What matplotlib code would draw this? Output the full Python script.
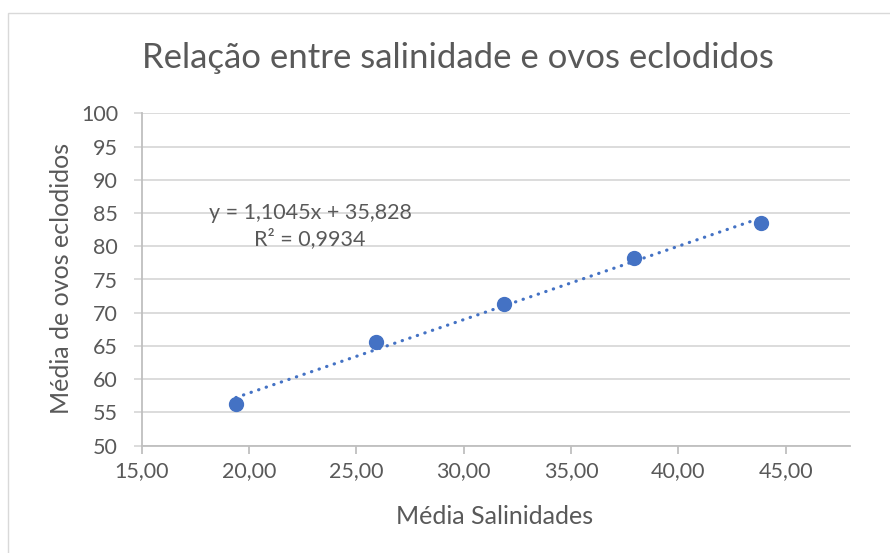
import numpy as np
import matplotlib
matplotlib.use("Agg")
import matplotlib.pyplot as plt
from matplotlib.patches import Rectangle

# data
salinidade = [19.39, 25.90, 31.87, 37.94, 43.85]
ovos = [56.3, 65.55, 71.25, 78.2, 83.5]
# trendline coefficients as printed on the chart
slope = 1.1045
intercept = 35.828
r2 = 0.9934

x_ticks = [15, 20, 25, 30, 35, 40, 45]
y_ticks = [50, 55, 60, 65, 70, 75, 80, 85, 90, 95, 100]

blue = '#4472C4'
text_gray = '#595959'
grid_gray = '#D9D9D9'
axis_gray = '#BFBFBF'

plt.rcParams['font.family'] = ['Lato', 'DejaVu Sans']

fig = plt.figure(figsize=(8.9, 5.53), dpi=100)
ax = fig.add_axes([141.7 / 890, (553 - 445.7) / 553, 708.3 / 890, 332.4 / 553])

# chart area border (only left/top visible in the crop)
fig.add_artist(Rectangle((8 / 890, -0.1), 1.2, (553 - 13) / 553 + 0.1,
                         transform=fig.transFigure, fill=False,
                         edgecolor=grid_gray, linewidth=1.0))

xs = np.array([min(salinidade), max(salinidade)])
ax.plot(xs, slope * xs + intercept, color=blue, linewidth=2.3,
        dashes=(0.1, 2.4), dash_capstyle='round', zorder=3)
ax.plot(salinidade, ovos, 'o', color=blue, markersize=10, zorder=4)

ax.set_xlim(15, 48)
ax.set_ylim(50, 100)
ax.set_xticks(x_ticks)
ax.set_xticklabels([('%.2f' % v).replace('.', ',') for v in x_ticks])
ax.set_yticks(y_ticks)

ax.grid(axis='y', color=grid_gray, linewidth=1.3)
ax.set_axisbelow(True)
for side in ['top', 'right']:
    ax.spines[side].set_visible(False)
ax.spines['left'].set_color(axis_gray)
ax.spines['bottom'].set_color(axis_gray)
ax.spines['left'].set_linewidth(1.3)
ax.spines['bottom'].set_linewidth(1.3)
ax.tick_params(axis='x', colors=axis_gray, labelcolor=text_gray, labelsize=15.5,
               length=6, width=1.3, pad=5)
ax.tick_params(axis='y', colors=grid_gray, labelcolor=text_gray, labelsize=15.5,
               length=6, width=1.3, pad=11)

fig.text(495 / 890, 1 - 516 / 553, 'Média Salinidades', fontsize=18,
         color=text_gray, ha='center', va='center')
fig.text(62 / 890, 1 - 278 / 553, 'Média de ovos eclodidos', fontsize=18,
         color=text_gray, ha='center', va='center', rotation=90)
fig.text(458 / 890, 1 - 58 / 553, 'Relação entre salinidade e ovos eclodidos',
         fontsize=25, color=text_gray, ha='center', va='center')

eq = 'y = %sx + %s' % (str(slope).replace('.', ','), str(intercept).replace('.', ','))
ax.text(22.84, 83.05, eq + '\nR² = ' + str(r2).replace('.', ','),
        fontsize=15.5, color=text_gray, ha='center', va='center', linespacing=1.3)

fig.savefig('out.png', dpi=100)
